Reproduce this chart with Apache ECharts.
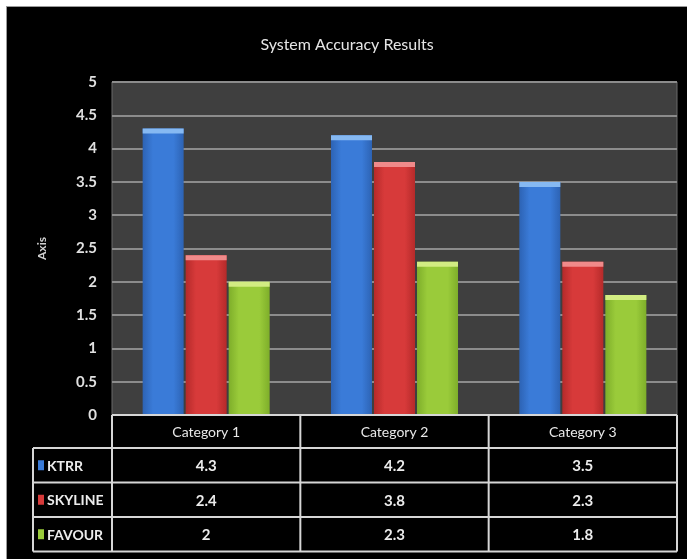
<!DOCTYPE html>
<html>
<head>
<meta charset="utf-8">
<title>System Accuracy Results</title>
<script src="https://cdn.jsdelivr.net/npm/echarts@6/dist/echarts.min.js"></script>
<style>
  html, body { margin: 0; padding: 0; background: #ffffff; }
  #chart {
    position: absolute; left: 7px; top: 7px;
    width: 680px; height: 552px;
    background: #000000;
    box-shadow: 0 0 0 1px #9a9a9a;
  }
</style>
</head>
<body>
<div id="chart"></div>
<script>
// Accuracy scores per system for each test category
const categories = ['Category 1', 'Category 2', 'Category 3'];
const seriesNames = ['KTRR', 'SKYLINE', 'FAVOUR'];
const ktrr = [4.3, 4.2, 3.5];
const skyline = [2.4, 3.8, 2.3];
const favour = [2, 2.3, 1.8];
const valueLabels = [['4.3', '4.2', '3.5'], ['2.4', '3.8', '2.3'], ['2', '2.3', '1.8']];
const yTicks = { min: 0, max: 5, step: 0.5 };

const seriesValues = [ktrr, skyline, favour];
const baseColors = ['#3a7bd8', '#d73a3a', '#9acb3a'];
const capColors = ['#86b9f2', '#f08a8a', '#d2ec82'];
const darkColors = ['#2d63b4', '#b52a2a', '#7eae2a'];

const FONT = "Lato, 'Open Sans', sans-serif";
const BAR_W = 41;
const BAR_GAP_PX = 2;

const chart = echarts.init(document.getElementById('chart'), null, { renderer: 'canvas' });

function barFill(i) {
  return new echarts.graphic.LinearGradient(0, 0, 1, 0, [
    { offset: 0, color: darkColors[i] },
    { offset: 0.25, color: baseColors[i] },
    { offset: 0.75, color: baseColors[i] },
    { offset: 1, color: darkColors[i] }
  ]);
}

// Highlight caps on top of each bar, placed from the same values via the axes
const capData = [];
seriesValues.forEach((vals, s) => vals.forEach((v, c) => capData.push([c, v, s])));

const barSeries = seriesNames.map((name, i) => ({
  name: name,
  type: 'bar',
  data: seriesValues[i],
  barWidth: BAR_W,
  barGap: (BAR_GAP_PX / BAR_W * 100).toFixed(1) + '%',
  itemStyle: { color: barFill(i) },
  z: 2
}));

chart.setOption({
  backgroundColor: '#000000',
  animation: false,
  title: {
    text: 'System Accuracy Results',
    left: 'center',
    top: 25,
    textStyle: { color: '#e6e6e6', fontFamily: FONT, fontSize: 16, fontWeight: 'normal' }
  },
  grid: { left: 105, right: 10, top: 75, bottom: 144, show: true, backgroundColor: '#3f3f3f', borderColor: '#6a6a6a', borderWidth: 1 },
  xAxis: {
    type: 'category',
    data: categories,
    axisLine: { show: false },
    axisTick: { show: false },
    axisLabel: { show: false }
  },
  yAxis: {
    type: 'value',
    min: yTicks.min,
    max: yTicks.max,
    interval: yTicks.step,
    name: 'Axis',
    nameLocation: 'middle',
    nameRotate: 90,
    nameGap: 64,
    nameTextStyle: { color: '#cfcfcf', fontFamily: FONT, fontSize: 12, fontWeight: 'bold' },
    axisLine: { show: false },
    axisTick: { show: false },
    axisLabel: { color: '#e0e0e0', fontFamily: FONT, fontSize: 15, fontWeight: 'bold', margin: 15 },
    splitLine: { lineStyle: { color: '#8c8c8c', width: 2 } }
  },
  series: barSeries.concat([{
    type: 'custom',
    data: capData,
    encode: { x: 0, y: 1 },
    z: 3,
    silent: true,
    renderItem: function (params, api) {
      const s = api.value(2);
      const pt = api.coord([api.value(0), api.value(1)]);
      const cx = pt[0] + (s - 1) * (BAR_W + BAR_GAP_PX);
      return {
        type: 'rect',
        shape: { x: cx - BAR_W / 2, y: pt[1], width: BAR_W, height: 5 },
        style: { fill: capColors[s] }
      };
    }
  }])
});

// Data table under the plot, aligned with the category bands
function drawTable() {
  const c0 = chart.convertToPixel({ xAxisIndex: 0 }, 0);
  const c1 = chart.convertToPixel({ xAxisIndex: 0 }, 1);
  const band = c1 - c0;
  const left = c0 - band / 2;
  const right = left + band * categories.length;
  const top = chart.convertToPixel({ yAxisIndex: 0 }, yTicks.min);
  const headerH = 33;
  const rowH = 34.5;
  const legendLeft = 26;
  const bottom = top + headerH + rowH * seriesNames.length;
  const lineStyle = { stroke: '#d6d6d6', lineWidth: 2 };
  const els = [];

  // table background
  els.push({ type: 'rect', shape: { x: left, y: top, width: right - left, height: bottom - top }, style: { fill: '#000' }, z: 10 });

  // horizontal rules
  els.push({ type: 'line', shape: { x1: left, y1: top, x2: right, y2: top }, style: lineStyle, z: 11 });
  for (let r = 0; r <= seriesNames.length; r++) {
    const y = top + headerH + rowH * r;
    els.push({ type: 'line', shape: { x1: legendLeft, y1: y, x2: right, y2: y }, style: lineStyle, z: 11 });
  }
  // vertical rules
  els.push({ type: 'line', shape: { x1: legendLeft, y1: top + headerH, x2: legendLeft, y2: bottom }, style: lineStyle, z: 11 });
  for (let c = 0; c <= categories.length; c++) {
    const x = left + band * c;
    els.push({ type: 'line', shape: { x1: x, y1: top, x2: x, y2: bottom }, style: lineStyle, z: 11 });
  }

  // header labels
  categories.forEach((cat, c) => {
    els.push({
      type: 'text', z: 12,
      style: {
        text: cat, x: left + band * (c + 0.5), y: top + headerH / 2 + 1,
        align: 'center', verticalAlign: 'middle',
        fill: '#e8e8e8', font: 'normal 14px ' + FONT
      }
    });
  });

  // series rows: legend key, name and values
  seriesNames.forEach((name, s) => {
    const yMid = top + headerH + rowH * (s + 0.5);
    els.push({ type: 'rect', z: 12, shape: { x: legendLeft + 5, y: yMid - 5, width: 6, height: 10 }, style: { fill: baseColors[s] } });
    els.push({
      type: 'text', z: 12,
      style: { text: name, x: legendLeft + 14, y: yMid + 1, align: 'left', verticalAlign: 'middle', fill: '#ececec', font: 'bold 14px ' + FONT }
    });
    valueLabels[s].forEach((txt, c) => {
      els.push({
        type: 'text', z: 12,
        style: { text: txt, x: left + band * (c + 0.5), y: yMid + 1, align: 'center', verticalAlign: 'middle', fill: '#ececec', font: 'bold 15px ' + FONT }
      });
    });
  });

  chart.setOption({ graphic: { elements: els } });
}
drawTable();
</script>
</body>
</html>
